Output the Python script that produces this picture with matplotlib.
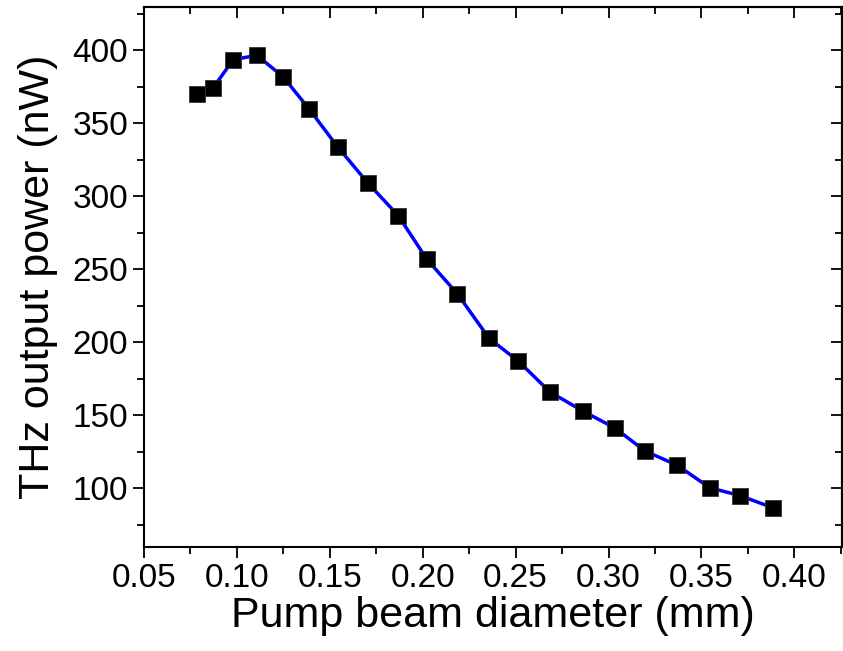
# THz output power vs pump beam diameter
import numpy as np
import matplotlib
matplotlib.use('Agg')
import matplotlib.pyplot as plt
from matplotlib.ticker import MultipleLocator

# data
diameter = [0.0787, 0.0873, 0.0980, 0.1107, 0.1250, 0.1388, 0.1542, 0.1704,
            0.1868, 0.2022, 0.2187, 0.2357, 0.2515, 0.2685, 0.2861, 0.3035,
            0.3196, 0.3370, 0.3545, 0.3708, 0.3884]
power = [370.0, 374.6, 393.6, 396.8, 381.8, 360.0, 334.0, 309.3,
         286.9, 257.0, 233.2, 202.8, 187.1, 166.0, 153.0, 141.3,
         125.6, 115.8, 100.4, 95.0, 86.7]

plt.rcParams['font.family'] = ['Liberation Sans', 'DejaVu Sans']

def main():
    fig = plt.figure(figsize=(8.43, 6.51), dpi=100)
    ax = fig.add_axes([0.1708, 0.1602, 0.8277, 0.8295])

    ax.plot(diameter, power, '-', color='#0000ff', linewidth=2.5, zorder=2)
    ax.plot(diameter, power, 's', color='black', markersize=11,
            markeredgecolor='#333333', markeredgewidth=0.6, zorder=3)

    ax.set_xlim(0.05, 0.4255)
    ax.set_ylim(60, 430)
    ax.xaxis.set_major_locator(MultipleLocator(0.05))
    ax.xaxis.set_minor_locator(MultipleLocator(0.025))
    ax.yaxis.set_major_locator(MultipleLocator(50))
    ax.yaxis.set_minor_locator(MultipleLocator(25))
    ax.set_xticks(np.arange(0.05, 0.41, 0.05))
    ax.set_xticklabels(['%.2f' % v for v in np.arange(0.05, 0.41, 0.05)])
    ax.set_yticks(np.arange(100, 401, 50))

    for s in ax.spines.values():
        s.set_linewidth(1.5)

    ax.tick_params(which='both', direction='out', width=1.3, labelsize=24,
                   top=False, right=False)
    ax.tick_params(which='major', length=8)
    ax.tick_params(which='minor', length=5)
    # inward ticks on top and right
    sec_x = ax.secondary_xaxis('top')
    sec_x.xaxis.set_major_locator(MultipleLocator(0.05))
    sec_x.xaxis.set_minor_locator(MultipleLocator(0.025))
    sec_x.tick_params(which='both', direction='in', width=1.3, labeltop=False)
    sec_x.tick_params(which='major', length=8)
    sec_x.tick_params(which='minor', length=5)
    sec_y = ax.secondary_yaxis('right')
    sec_y.yaxis.set_major_locator(MultipleLocator(50))
    sec_y.yaxis.set_minor_locator(MultipleLocator(25))
    sec_y.tick_params(which='both', direction='in', width=1.3, labelright=False)
    sec_y.tick_params(which='major', length=8)
    sec_y.tick_params(which='minor', length=5)
    for s in list(sec_x.spines.values()) + list(sec_y.spines.values()):
        s.set_linewidth(1.5)

    ax.set_xlabel('Pump beam diameter (mm)', fontsize=31, labelpad=2)
    ax.set_ylabel('THz output power (nW)', fontsize=31, labelpad=10)

    fig.savefig('out.png', dpi=100)

if __name__ == "__main__":
    main()
